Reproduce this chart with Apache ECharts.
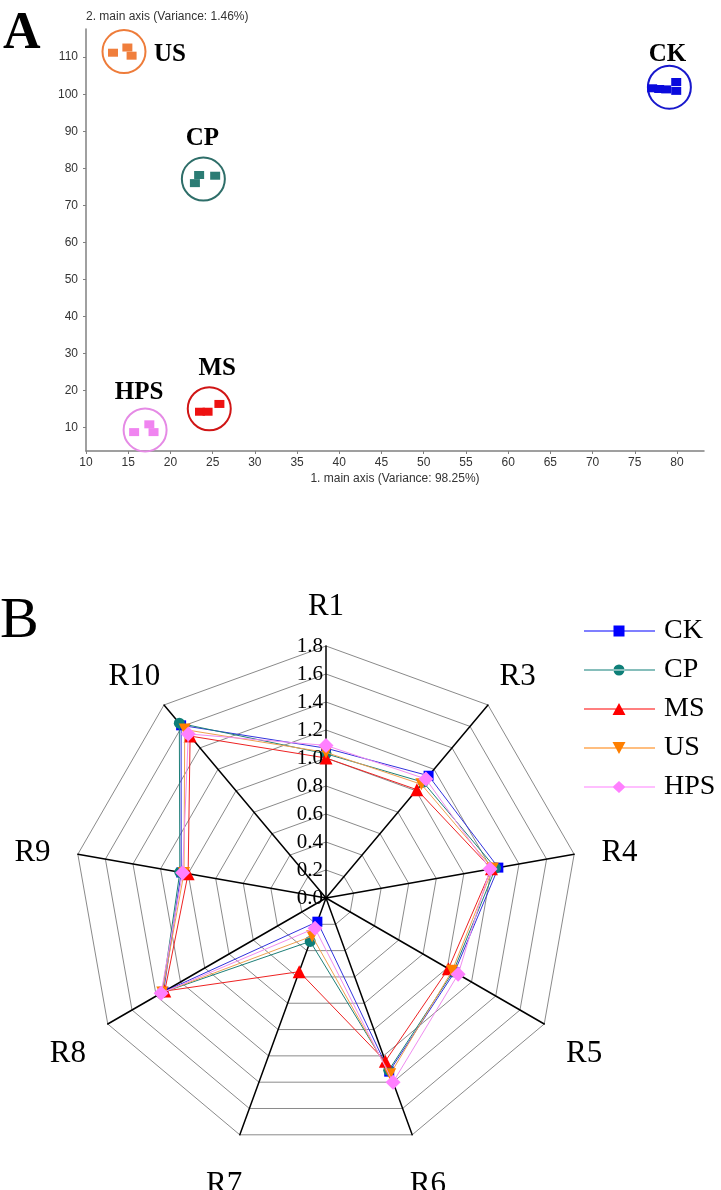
<!DOCTYPE html>
<html><head><meta charset="utf-8">
<script src="https://cdn.jsdelivr.net/npm/echarts@6/dist/echarts.min.js"></script>
<style>html,body{margin:0;padding:0;background:#fff}#c{width:721px;height:1190px}</style>
</head><body><div id="c"></div>
<script>
// ---------- Panel A data ----------
const groupNames = ['US', 'CP', 'MS', 'HPS', 'CK'];
const usPoints  = [[13.2, 111.2], [14.9, 112.6], [15.4, 110.4]];
const cpPoints  = [[23.4, 78.2], [22.9, 76.0], [25.3, 78.0]];
const msPoints  = [[23.5, 14.3], [24.4, 14.3], [25.8, 16.4]];
const hpsPoints = [[15.7, 8.8], [17.5, 10.9], [18.0, 8.8]];
const ckPoints  = [[77.06, 101.6], [77.89, 101.4], [78.72, 101.3], [79.91, 103.3], [79.91, 100.9]];
const clusterCenters = [[14.5, 111.5], [23.9, 77.1], [24.6, 15.1], [17.0, 9.4], [79.1, 101.9]];
const xTicks = [10, 15, 20, 25, 30, 35, 40, 45, 50, 55, 60, 65, 70, 75, 80];
const yTicks = [10, 20, 30, 40, 50, 60, 70, 80, 90, 100, 110];
const xRange = [10, 83.2];
const yRange = [3.7, 117.6];
const xAxisTitle = '1. main axis (Variance: 98.25%)';
const yAxisTitle = '2. main axis (Variance: 1.46%)';

// ---------- Panel B data ----------
const indicators = ['R1', 'R3', 'R4', 'R5', 'R6', 'R7', 'R8', 'R9', 'R10'];
const radarTicks = [0.0, 0.2, 0.4, 0.6, 0.8, 1.0, 1.2, 1.4, 1.6, 1.8];
const seriesNames = ['CK', 'CP', 'MS', 'US', 'HPS'];
const ckValues  = [1.07, 1.14, 1.25, 1.06, 1.32, 0.18, 1.34, 1.05, 1.61];
const cpValues  = [1.03, 1.08, 1.23, 1.05, 1.31, 0.33, 1.35, 1.06, 1.63];
const msValues  = [1.00, 1.01, 1.20, 1.01, 1.24, 0.56, 1.33, 1.00, 1.51];
const usValues  = [1.04, 1.06, 1.21, 1.04, 1.34, 0.29, 1.35, 1.03, 1.57];
const hpsValues = [1.09, 1.11, 1.19, 1.09, 1.40, 0.23, 1.36, 1.04, 1.53];

// ---------- styles ----------
const groupColors = ['#F07E3C', '#2B7C74', '#EE1111', '#F084F0', '#0A0ADD'];
const ringColors  = ['#EE7C3A', '#2E6E69', '#D01515', '#E58AE5', '#1818CC'];
const labelOffsets = [[46, 3], [-1, -41], [8, -40], [-6, -37], [-2, -33]];
const radarColors = ['#0000FF', '#0E7F78', '#FF0000', '#FF7F00', '#FF80FF'];
const radarLineColors = ['#3333DD', '#1E8078', '#EE2222', '#F0A050', '#F08CF0'];
const radarSymbols = ['rect', 'circle', 'triangle', 'path://M0,0L12,0L6,11Z', 'diamond'];
const radarSymbolSizes = [10, 11, 13, 12, 15];
const legendIcons = [
  'path://M0 5.5H71V6.5H0Z M29.5 0.5H40.5V11.5H29.5Z',
  'path://M0 5.5H71V6.5H0Z M29.5 6A5.5 5.5 0 1 0 40.5 6A5.5 5.5 0 1 0 29.5 6Z',
  'path://M0 5.5H71V6.5H0Z M35 0L41.5 12H28.5Z',
  'path://M0 5.5H71V6.5H0Z M28.5 0H41.5L35 12Z',
  'path://M0 5.5H71V6.5H0Z M35 0L41.5 6L35 12L28.5 6Z'
];
// radar axes go counter-clockwise from the top: R1, R10, R9, ... R3
const radarOrder = [0, 8, 7, 6, 5, 4, 3, 2, 1];
const reorder = arr => radarOrder.map(i => arr[i]);

const allPoints = [usPoints, cpPoints, msPoints, hpsPoints, ckPoints];
const radarValues = [ckValues, cpValues, msValues, usValues, hpsValues];

const axisGray = '#808080';
const sans = 'Liberation Sans';
const serif = 'Liberation Serif';

const chart = echarts.init(document.getElementById('c'), null, {renderer: 'canvas'});

const series = [];
allPoints.forEach((pts, i) => {
  series.push({
    type: 'scatter', name: groupNames[i] + '_pts', xAxisIndex: 0, yAxisIndex: 0,
    symbol: 'rect', symbolSize: [10, 8],
    itemStyle: {color: groupColors[i], opacity: 1},
    data: pts, silent: true, z: 3
  });
});
series.push({
  type: 'scatter', name: 'rings', xAxisIndex: 0, yAxisIndex: 0,
  symbol: 'circle', symbolSize: 43, silent: true, z: 2,
  itemStyle: {color: 'rgba(0,0,0,0)', borderWidth: 2, opacity: 1},
  data: clusterCenters.map((c, i) => ({
    value: c, name: groupNames[i],
    itemStyle: {borderColor: ringColors[i], color: 'rgba(0,0,0,0)', borderWidth: 2, opacity: 1},
    label: {
      show: true, position: 'inside', offset: labelOffsets[i], formatter: groupNames[i],
      fontFamily: serif, fontWeight: 'bold', fontSize: 25, color: '#000', opacity: 1
    }
  }))
});
radarValues.forEach((vals, i) => {
  series.push({
    type: 'radar', name: seriesNames[i], radarIndex: 0,
    symbol: radarSymbols[i], symbolSize: radarSymbolSizes[i],
    itemStyle: {color: radarColors[i]},
    lineStyle: {color: radarLineColors[i], width: 1},
    data: [{value: reorder(vals), name: seriesNames[i]}],
    z: 3 + i
  });
});

const option = {
  backgroundColor: '#fff',
  animation: false,
  title: [
    {text: 'A', left: 3, top: 9, padding: 0,
     textStyle: {fontFamily: serif, fontWeight: 'bold', fontSize: 52, color: '#000'}},
    {text: 'B', left: 0, top: 593, padding: 0,
     textStyle: {fontFamily: serif, fontWeight: 'normal', fontSize: 58, color: '#000'}}
  ],
  grid: [{left: 86, top: 29, width: 618, height: 422, containLabel: false}],
  xAxis: [{
    type: 'value', gridIndex: 0, min: xRange[0], max: xRange[1],
    name: xAxisTitle, nameLocation: 'middle', nameGap: 22,
    nameTextStyle: {fontFamily: sans, fontSize: 12, color: '#333'},
    axisLine: {onZero: false, lineStyle: {color: axisGray, width: 1.5}},
    axisTick: {show: true, length: 3, lineStyle: {color: axisGray}, customValues: xTicks},
    axisLabel: {fontFamily: sans, fontSize: 12, color: '#333', margin: 6, customValues: xTicks},
    splitLine: {show: false}
  }],
  yAxis: [{
    type: 'value', gridIndex: 0, min: yRange[0], max: yRange[1],
    name: yAxisTitle, nameLocation: 'end', nameGap: 6,
    nameTextStyle: {fontFamily: sans, fontSize: 12, color: '#333', align: 'left', verticalAlign: 'bottom'},
    axisLine: {onZero: false, lineStyle: {color: axisGray, width: 1.5}},
    axisTick: {show: true, length: 3, lineStyle: {color: axisGray}, customValues: yTicks},
    axisLabel: {fontFamily: sans, fontSize: 12, color: '#333', margin: 8, customValues: yTicks},
    splitLine: {show: false}
  }],
  polar: {center: [326, 898], radius: 252},
  angleAxis: {type: 'value', min: 0, max: 360, startAngle: 90, show: false},
  radiusAxis: {
    type: 'value', min: radarTicks[0], max: radarTicks[radarTicks.length - 1], interval: 0.2,
    axisLine: {show: false}, axisTick: {show: false}, splitLine: {show: false},
    axisLabel: {show: true, margin: 3, fontFamily: serif, fontSize: 21, color: '#000',
                formatter: v => v.toFixed(1)},
    z: 10
  },
  radar: {
    center: [326, 898], radius: 252, startAngle: 90, shape: 'polygon',
    splitNumber: radarTicks.length - 1,
    indicator: reorder(indicators).map(n => ({name: n, min: radarTicks[0], max: radarTicks[radarTicks.length - 1]})),
    nameGap: 46,
    axisName: {
      color: '#000', fontFamily: serif, fontSize: 31, align: 'center', verticalAlign: 'middle',
      formatter: '{a|{value}}',
      rich: {a: {fontFamily: serif, fontSize: 31, color: '#000', padding: [14, 0, 0, 0]}}
    },
    axisLine: {lineStyle: {color: '#000', width: 1.5}},
    splitLine: {lineStyle: {color: '#8a8a8a', width: 1}},
    splitArea: {show: false},
    axisTick: {show: false},
    axisLabel: {show: false}
  },
  legend: {
    orient: 'vertical', left: 584, top: 617, padding: 0,
    itemWidth: 71, itemHeight: 12, itemGap: 11,
    textStyle: {fontFamily: serif, fontSize: 28, color: '#000', padding: [0, 0, 0, 4]},
    data: seriesNames.map((n, i) => ({name: n, icon: legendIcons[i], itemStyle: {color: radarColors[i]}})),
    selectedMode: false
  },
  series: series
};
chart.setOption(option);
</script>
</body></html>
